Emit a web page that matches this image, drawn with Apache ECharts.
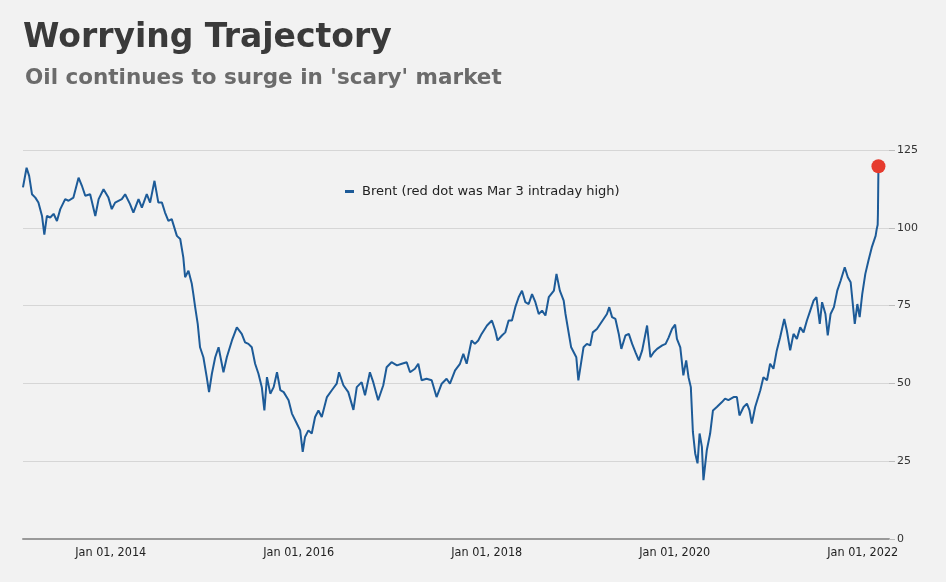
<!DOCTYPE html>
<html><head><meta charset="utf-8">
<script src="https://cdn.jsdelivr.net/npm/echarts@6/dist/echarts.min.js"></script>
<style>html,body{margin:0;padding:0;background:#f2f2f2}#c{width:946px;height:582px}</style>
</head><body><div id="c"></div>
<script>
const titleText = 'Worrying Trajectory';
const subtitleText = "Oil continues to surge in 'scary' market";
const seriesName = 'Brent (red dot was Mar 3 intraday high)';

const dates = [
'2013-01-25','2013-02-08','2013-02-18','2013-03-01','2013-03-14','2013-03-26','2013-04-09','2013-04-18','2013-04-28','2013-05-11',
'2013-05-24','2013-06-06','2013-06-19','2013-07-08','2013-07-21','2013-08-09','2013-08-29','2013-09-11','2013-09-24','2013-10-13',
'2013-11-02','2013-11-15','2013-12-04','2013-12-23','2014-01-05','2014-01-18','2014-02-13','2014-02-26','2014-03-17','2014-03-30',
'2014-04-19','2014-05-02','2014-05-21','2014-06-03','2014-06-20','2014-07-05','2014-07-19','2014-07-31','2014-08-13','2014-08-26',
'2014-09-15','2014-09-28','2014-10-10','2014-10-17','2014-10-30','2014-11-12','2014-11-18','2014-11-25','2014-12-05','2014-12-14',
'2014-12-27','2015-01-09','2015-01-18','2015-01-29','2015-02-11','2015-02-24','2015-03-15','2015-03-28','2015-04-17','2015-05-06',
'2015-05-25','2015-06-07','2015-06-20','2015-07-03','2015-07-16','2015-07-29','2015-08-11','2015-08-21','2015-08-31','2015-09-13',
'2015-09-26','2015-10-09','2015-10-22','2015-11-04','2015-11-23','2015-12-06','2015-12-25','2016-01-07','2016-01-17','2016-01-26',
'2016-02-08','2016-02-21','2016-03-05','2016-03-18','2016-03-31','2016-04-20','2016-05-09','2016-05-28','2016-06-06','2016-06-23',
'2016-07-12','2016-08-01','2016-08-14','2016-09-02','2016-09-15','2016-10-04','2016-10-17','2016-11-05','2016-11-25','2016-12-08',
'2016-12-27','2017-01-17','2017-02-05','2017-02-24','2017-03-09','2017-03-28','2017-04-10','2017-04-23','2017-05-12','2017-06-01',
'2017-06-20','2017-07-10','2017-07-29','2017-08-11','2017-08-31','2017-09-19','2017-10-02','2017-10-15','2017-11-03','2017-11-16',
'2017-11-29','2017-12-12','2018-01-02','2018-01-21','2018-02-03','2018-02-12','2018-03-01','2018-03-14','2018-03-27','2018-04-09',
'2018-04-22','2018-05-05','2018-05-18','2018-05-31','2018-06-13','2018-06-26','2018-07-09','2018-07-22','2018-08-04','2018-08-17',
'2018-08-30','2018-09-19','2018-09-29','2018-10-12','2018-10-27','2018-11-03','2018-11-16','2018-11-25','2018-12-05','2018-12-15',
'2018-12-23','2019-01-02','2019-01-12','2019-01-25','2019-02-07','2019-02-17','2019-03-05','2019-03-18','2019-03-31','2019-04-13',
'2019-04-22','2019-05-03','2019-05-16','2019-05-29','2019-06-08','2019-06-24','2019-07-07','2019-07-20','2019-08-02','2019-08-15',
'2019-08-28','2019-09-16','2019-09-29','2019-10-12','2019-10-25','2019-11-14','2019-11-27','2019-12-09','2019-12-22','2020-01-03',
'2020-01-10','2020-01-23','2020-02-04','2020-02-15','2020-02-24','2020-03-04','2020-03-12','2020-03-21','2020-03-30','2020-04-07',
'2020-04-16','2020-04-22','2020-05-05','2020-05-18','2020-05-29','2020-06-13','2020-07-03','2020-07-15','2020-07-28','2020-08-17',
'2020-08-30','2020-09-09','2020-09-25','2020-10-08','2020-10-18','2020-10-27','2020-11-09','2020-11-29','2020-12-11','2020-12-25',
'2021-01-06','2021-01-19','2021-02-01','2021-02-14','2021-03-02','2021-03-12','2021-03-25','2021-04-07','2021-04-20','2021-05-03',
'2021-05-16','2021-05-29','2021-06-11','2021-06-24','2021-07-05','2021-07-18','2021-07-27','2021-08-09','2021-08-18','2021-08-29',
'2021-09-11','2021-09-24','2021-10-07','2021-10-23','2021-11-04','2021-11-15','2021-12-01','2021-12-11','2021-12-20','2021-12-30',
'2022-01-11','2022-01-23','2022-02-05','2022-02-11','2022-02-20','2022-02-24','2022-02-28','2022-03-01','2022-03-02','2022-03-03'
];

const brent = [
113.0,119.3,116.7,110.8,109.7,108.1,103.8,97.8,103.8,103.3,
104.5,102.2,106.0,109.2,108.7,109.7,116.1,113.5,110.3,110.8,
103.8,109.2,112.4,109.7,106.0,108.1,109.2,110.8,107.6,104.9,
109.2,106.5,110.8,108.1,115.1,108.1,108.1,104.9,102.2,102.8,
97.4,96.4,90.5,84.1,86.2,82.0,78.7,74.5,69.1,61.6,
58.4,52.0,47.2,53.1,58.4,61.6,53.6,58.4,63.8,68.0,
65.9,63.2,62.7,61.6,56.3,53.1,48.8,41.3,52.0,46.7,
48.8,53.6,47.8,47.2,44.6,40.3,37.1,34.9,28.0,32.8,
34.9,33.9,39.2,41.3,39.2,45.6,47.8,49.9,53.6,49.4,
47.2,41.5,48.8,50.4,46.2,53.6,50.4,44.6,49.4,55.2,
56.8,55.8,56.3,56.8,53.6,54.7,56.3,51.0,51.5,51.0,
45.6,49.9,51.5,49.9,54.2,56.3,59.5,56.3,63.8,62.7,
63.8,65.9,68.6,70.2,67.0,63.8,65.4,66.4,70.2,70.2,
74.5,77.7,79.8,76.1,75.5,78.7,76.1,72.3,73.4,71.8,
77.7,79.8,85.2,79.8,76.6,72.3,65.9,61.6,60.0,58.4,
51.0,56.3,61.6,62.7,62.2,66.4,67.5,69.1,70.7,72.3,
74.5,71.3,70.7,65.9,61.1,65.4,65.9,62.7,60.0,57.4,
60.6,68.6,58.4,60.0,61.1,62.2,62.7,64.8,67.5,68.9,
64.3,61.6,52.6,57.4,52.0,48.8,34.4,27.5,24.3,33.9,
29.6,18.9,28.5,33.9,41.3,42.4,44.0,45.1,44.6,45.6,
45.6,39.7,42.4,43.5,41.3,37.1,42.4,47.8,52.0,51.0,
56.3,54.7,60.6,64.8,70.7,67.0,60.6,65.9,64.3,68.0,
66.4,70.2,73.4,76.6,77.7,69.1,76.1,72.3,65.4,72.3,
74.5,79.8,83.0,87.3,84.1,82.5,69.1,75.5,71.3,78.7,
85.2,89.4,93.7,93.7,97.4,99.5,101.0,104.5,112.0,119.8
];

const highDate = '2022-03-03';
const highValue = 119.8;
const xLabelYears = [2014, 2016, 2018, 2020, 2022];
const yMin = 0, yMax = 125, yStep = 25;
const axisEndDate = '2022-04-13';

const DAY = 86400000;
const ORIGIN = Date.UTC(2014, 0, 1);
function toDay(s) {
  const p = s.split('-').map(Number);
  return (Date.UTC(p[0], p[1] - 1, p[2]) - ORIGIN) / DAY;
}
const xStep = 730.5 / 30;
const xMin = -14 * xStep;
const xMax = toDay(axisEndDate);

const lineData = dates.map((d, i) => [toDay(d), brent[i]]);

const chart = echarts.init(document.getElementById('c'), null, {renderer: 'canvas'});
chart.setOption({
  backgroundColor: '#f2f2f2',
  animation: false,
  title: [
    {text: titleText, left: 18, top: 17,
     textStyle: {fontFamily: 'DejaVu Sans', fontWeight: 'bold', fontSize: 33, color: '#3a3a3a'}},
    {text: subtitleText, left: 20, top: 62,
     textStyle: {fontFamily: 'DejaVu Sans', fontWeight: 'bold', fontSize: 21.5, color: '#6b6b6b'}}
  ],
  legend: {
    data: [seriesName], left: 340, top: 180,
    icon: 'rect', itemWidth: 9, itemHeight: 3,
    textStyle: {fontFamily: 'DejaVu Sans', fontSize: 13, color: '#222', padding: [0, 0, 0, 3]}
  },
  grid: {left: 23, right: 57, top: 150, bottom: 43, containLabel: false, outerBoundsMode: 'none'},
  xAxis: {
    type: 'value', min: xMin, max: xMax, interval: xStep,
    axisLine: {show: true, onZero: false, lineStyle: {color: '#9a9a9a', width: 2}},
    axisTick: {show: false},
    splitLine: {show: false},
    axisLabel: {
      show: true, margin: 7, fontFamily: 'DejaVu Sans Condensed, DejaVu Sans', fontSize: 12.5, color: '#222',
      showMinLabel: true, showMaxLabel: true,
      formatter: function (v) {
        const yr = 2014 + v / 365.25;
        const r = Math.round(yr);
        if (Math.abs(yr - r) < 0.01 && xLabelYears.indexOf(r) >= 0) return 'Jan 01, ' + r;
        return '';
      }
    }
  },
  yAxis: {
    type: 'value', position: 'right', min: yMin, max: yMax, interval: yStep,
    axisLine: {show: false, onZero: false},
    axisTick: {show: true, length: 6, lineStyle: {color: '#bdbdbd'}},
    splitLine: {show: true, lineStyle: {color: '#d6d6d6', width: 1}},
    axisLabel: {margin: 8, fontFamily: 'DejaVu Sans', fontSize: 11, color: '#333'}
  },
  series: [
    {name: seriesName, type: 'line', data: lineData, showSymbol: false, symbol: 'none',
     lineStyle: {color: '#1d5b98', width: 2}, itemStyle: {color: '#1d5b98'}, z: 2},
    {name: 'high', type: 'scatter', data: [[toDay(highDate), highValue]], symbolSize: 14,
     itemStyle: {color: '#e63b2e', opacity: 1}, z: 3}
  ]
});
</script>
</body></html>
